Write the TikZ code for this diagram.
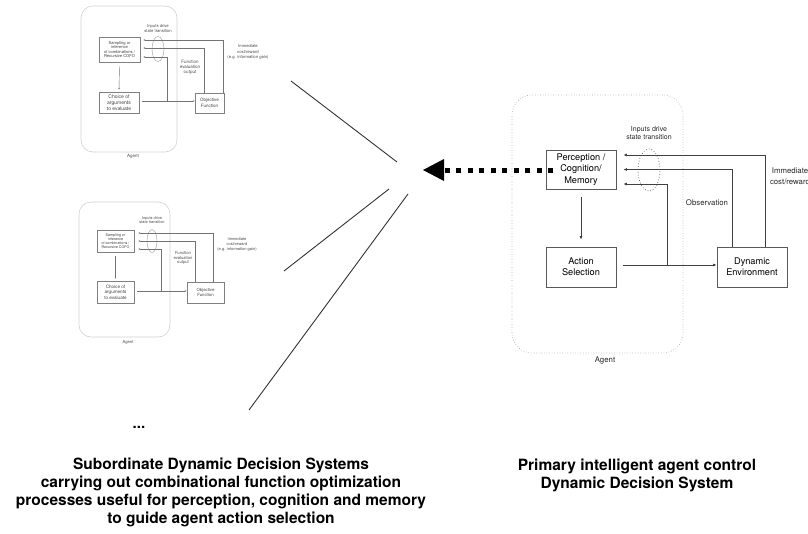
\documentclass[tikz,border=0pt]{standalone}
\usepackage{fontspec}
\setmainfont{TeX Gyre Heros}
\usetikzlibrary{arrows.meta,shapes.geometric}
\tikzset{
  mbox/.style={draw=black!65, line width=0.8pt, align=center, inner sep=0pt, minimum width=70pt, minimum height=40pt, font=\fontsize{9.2}{11.2}\selectfont},
  mln/.style={draw=black!75, line width=0.7pt},
  marr/.style={mln, -{Latex[length=3.5pt,width=3pt]}},
  mtxt/.style={align=center, inner sep=0pt, font=\fontsize{7.8}{8.6}\selectfont, text=black!85},
  agbox/.style={draw=black!35, dotted, line width=0.6pt, rounded corners=20pt, inner sep=0pt},
  sag/.style={draw=black!18, line width=0.6pt, rounded corners=12pt, inner sep=0pt},
  sbox/.style={draw=black!50, line width=0.45pt, align=center, inner sep=0pt, text=black!75},
  sln/.style={draw=black!55, line width=0.4pt},
  sarr/.style={sln, -{Latex[length=1.8pt,width=1.6pt]}},
  stxt/.style={align=center, inner sep=0pt, text=black!70},
  fan/.style={draw=black!80, line width=0.9pt},
  capt/.style={align=center, inner sep=0pt, font=\fontsize{15.5}{18}\selectfont\bfseries},
}
\begin{document}
\begin{tikzpicture}[x=1pt,y=-1pt]
\useasboundingbox (0,0) rectangle (808,533);
\clip (0,0) rectangle (808,533);

% ---------------- Top subordinate system ----------------
\node[sag, minimum width=96pt, minimum height=146pt] (Tag) at (129,79) {};
\node[stxt, font=\fontsize{4.5}{5}\selectfont] (Tagl) at (133,156) {Agent};
\node[sbox, minimum width=41pt, minimum height=25pt, font=\fontsize{4.1}{4.4}\selectfont] (Ts) at (119.5,49.5) {Sampling or\\inference\\of combinations /\\Recursive COFO};
\node[sbox, minimum width=40pt, minimum height=21pt, font=\fontsize{5}{6}\selectfont] (Tc) at (119,102.5) {Choice of\\arguments\\to evaluate};
\node[sbox, minimum width=29pt, minimum height=20pt, font=\fontsize{4.5}{5.5}\selectfont] (To) at (209.5,103) {Objective\\Function};
\node[ellipse, draw=black!40, line width=0.4pt, minimum width=12pt, minimum height=25pt, inner sep=0pt] (Te) at (158,49) {};
\node[stxt, font=\fontsize{4.2}{4.6}\selectfont] (Tin) at (158,28.5) {Inputs drive\\state transition};
\node[stxt, font=\fontsize{4.5}{5}\selectfont] (Tfe) at (190,67) {Function\\evaluation\\output};
\node[stxt, font=\fontsize{4.2}{5.4}\selectfont] (Tim) at (248,52) {Immediate\\cost/reward\\(e.g. information gain)};
\coordinate (Tj) at (167,101);
\draw[sarr] ([yshift=-4pt]Ts.south) -- ([yshift=2pt]Tc.north);
\draw[sarr] ([xshift=3pt,yshift=1.5pt]Tc.east) -- (To.west |- Tj);
\draw[sarr] ([xshift=13.5pt]To.north) |- ([xshift=3pt,yshift=9.5pt]Ts.east);
\draw[sarr] ([xshift=-5.5pt]To.north) |- ([xshift=3pt,yshift=1.5pt]Ts.east);
\draw[sarr] (Tj) |- ([xshift=3pt,yshift=-7.5pt]Ts.east);

% ---------------- Bottom subordinate system ----------------
\node[sag, minimum width=91pt, minimum height=135pt] (Bag) at (124.5,269.5) {};
\node[stxt, font=\fontsize{4.2}{5}\selectfont] (Bagl) at (128,342) {Agent};
\node[sbox, minimum width=37pt, minimum height=22pt, font=\fontsize{3.7}{4}\selectfont] (Bs) at (115.5,241) {Sampling or\\inference\\of combinations /\\Recursive COFO};
\node[sbox, minimum width=37pt, minimum height=22pt, font=\fontsize{4.6}{5.5}\selectfont] (Bc) at (115.5,292) {Choice of\\arguments\\to evaluate};
\node[sbox, minimum width=37pt, minimum height=21pt, font=\fontsize{4.3}{5.3}\selectfont] (Bo) at (205.5,292.5) {Objective\\Function};
\node[ellipse, draw=black!40, line width=0.4pt, minimum width=10pt, minimum height=23pt, inner sep=0pt] (Be) at (152,241) {};
\node[stxt, font=\fontsize{3.9}{4.3}\selectfont] (Bin) at (152,220) {Inputs drive\\state transition};
\node[stxt, font=\fontsize{4.2}{4.8}\selectfont] (Bfe) at (183,258) {Function\\evaluation\\output};
\node[stxt, font=\fontsize{4}{5}\selectfont] (Bim) at (237,244) {Immediate\\cost/reward\\(e.g. information gain)};
\coordinate (Bj) at (161,291);
\draw[sarr] ([yshift=-4pt]Bs.south) -- ([yshift=2pt]Bc.north);
\draw[sarr] ([xshift=3pt,yshift=1pt]Bc.east) -- (Bo.west |- Bj);
\draw[sarr] ([xshift=7.5pt]Bo.north) |- ([xshift=4pt,yshift=8pt]Bs.east);
\draw[sarr] ([xshift=-10.5pt]Bo.north) |- ([xshift=4pt,yshift=0pt]Bs.east);
\draw[sarr] (Bj) |- ([xshift=4pt,yshift=-8pt]Bs.east);

% ---------------- Fan lines ----------------
\coordinate (f1a) at (291,81);  \coordinate (f1b) at (397,162);
\coordinate (f2a) at (284,271); \coordinate (f2b) at (389,189);
\coordinate (f3a) at (249,410); \coordinate (f3b) at (408,194);
\draw[fan] (f1a) -- (f1b);
\draw[fan] (f2a) -- (f2b);
\draw[fan] (f3a) -- (f3b);
\node[inner sep=0pt, font=\fontsize{15}{18}\selectfont\bfseries] (dots) at (139,427) {...};

% ---------------- Primary system ----------------
\node[agbox, minimum width=171pt, minimum height=258pt] (agent) at (597.5,224) {};
\node[mtxt] (agentl) at (605,361) {Agent};
\coordinate (tip) at (423,170);
\draw[line width=5pt, dash pattern=on 5pt off 6.5pt, -{Triangle[length=21pt,width=22pt,line width=0pt]}] (553,170) -- (tip);
\node[mbox, minimum height=39pt] (pcm) at (581,169.5) {Perception /\\Cognition/\\Memory};
\node[mbox] (act) at (581,267) {Action\\Selection};
\node[mbox] (env) at (752,267) {Dynamic\\Environment};
\node[ellipse, draw=black!55, dotted, line width=0.8pt, minimum width=22pt, minimum height=42pt, inner sep=0pt] (ell) at (649,170) {};
\node[mtxt, font=\fontsize{7}{8.3}\selectfont] (inputs) at (649,133) {Inputs drive\\state transition};
\node[mtxt] (obs) at (707,203) {Observation};
\node[mtxt, font=\fontsize{7.8}{11.5}\selectfont] (imm) at (790,176) {Immediate\\cost/reward};
\coordinate (j) at (667,265);
\draw[marr] ([yshift=-8pt]pcm.south) -- ([yshift=7pt]act.north);
\draw[marr] ([xshift=7pt,yshift=2pt]act.east) -- (env.west |- j);
\draw[marr] ([xshift=13pt]env.north) |- ([xshift=7pt,yshift=14.5pt]pcm.east);
\draw[marr] ([xshift=-20pt]env.north) |- ([xshift=7pt]pcm.east);
\draw[marr] (j) |- ([xshift=7pt,yshift=-14.5pt]pcm.east);

% ---------------- Captions ----------------
\node[capt] (capL) at (221,492) {Subordinate Dynamic Decision Systems\\carrying out combinational function optimization\\processes useful for perception, cognition and memory\\to guide agent action selection};
\node[capt] (capR) at (637,475) {Primary intelligent agent control\\Dynamic Decision System};
\end{tikzpicture}
\end{document}
